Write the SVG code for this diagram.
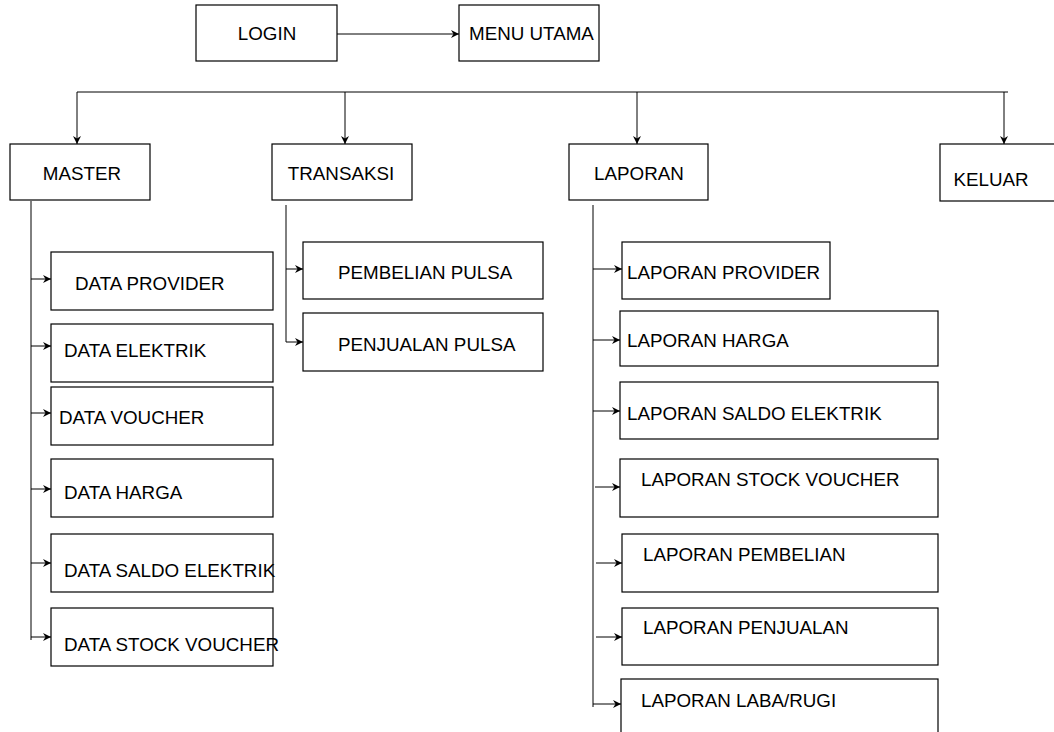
<svg xmlns="http://www.w3.org/2000/svg" width="1054" height="732" viewBox="0 0 1054 732">
<style>
  .box { fill: #fff; stroke: #000; stroke-width: 1.2; }
  .t { font-family: "Liberation Sans", Arial, sans-serif; font-size: 18.8px; fill: #000; }
  .c { text-anchor: middle; }
  .ln { fill: none; stroke: #000; stroke-width: 1; }
  .ar { fill: none; stroke: #000; stroke-width: 1; marker-end: url(#ah); }
</style>
<defs>
  <marker id="ah" viewBox="0 0 9 10" refX="8" refY="5" markerWidth="9" markerHeight="10" markerUnits="userSpaceOnUse" orient="auto">
    <path d="M0,1 L8,5 L0,9 L2.5,5 Z" fill="#000"/>
  </marker>
</defs>
<rect width="1054" height="732" fill="#fff"/>

<g id="connectors">
  <line class="ar" x1="337" y1="34" x2="459" y2="34"/>
  <line class="ln" x1="77" y1="92" x2="1008" y2="92"/>
  <line class="ar" x1="77" y1="92" x2="77" y2="144"/>
  <line class="ar" x1="345" y1="92" x2="345" y2="144"/>
  <line class="ar" x1="637" y1="92" x2="637" y2="144"/>
  <line class="ar" x1="1004" y1="92" x2="1004" y2="144"/>

  <line class="ln" x1="31" y1="201" x2="31" y2="640"/>
  <line class="ar" x1="31" y1="279" x2="51" y2="279"/>
  <line class="ar" x1="31" y1="346" x2="51" y2="346"/>
  <line class="ar" x1="31" y1="413" x2="51" y2="413"/>
  <line class="ar" x1="31" y1="489" x2="51" y2="489"/>
  <line class="ar" x1="31" y1="563" x2="51" y2="563"/>
  <line class="ar" x1="31" y1="637" x2="51" y2="637"/>

  <line class="ln" x1="286" y1="205" x2="286" y2="342"/>
  <line class="ar" x1="286" y1="269" x2="303" y2="269"/>
  <line class="ar" x1="286" y1="342" x2="303" y2="342"/>

  <line class="ln" x1="593" y1="205" x2="593" y2="707"/>
  <line class="ar" x1="593" y1="269" x2="622" y2="269"/>
  <line class="ar" x1="593" y1="340" x2="620" y2="340"/>
  <line class="ar" x1="593" y1="411" x2="620" y2="411"/>
  <line class="ar" x1="595" y1="487" x2="620" y2="487"/>
  <line class="ar" x1="596" y1="563" x2="622" y2="563"/>
  <line class="ar" x1="596" y1="637" x2="622" y2="637"/>
  <line class="ar" x1="593" y1="704" x2="621" y2="704"/>
</g>

<g id="login"><rect class="box" x="196" y="5" width="141" height="56"/><text class="t c" x="267" y="40">LOGIN</text></g>
<g id="menu-utama"><rect class="box" x="459" y="5" width="140" height="56"/><text class="t" x="469" y="40">MENU UTAMA</text></g>

<g id="master"><rect class="box" x="10" y="144" width="140" height="56"/><text class="t c" x="82" y="180">MASTER</text></g>
<g id="transaksi"><rect class="box" x="272" y="144" width="140" height="56"/><text class="t c" x="341" y="180">TRANSAKSI</text></g>
<g id="laporan"><rect class="box" x="569" y="144" width="139" height="56"/><text class="t c" x="639" y="180">LAPORAN</text></g>
<g id="keluar"><rect class="box" x="940" y="144" width="120" height="57"/><text class="t c" x="991" y="186">KELUAR</text></g>

<g id="data-provider"><rect class="box" x="51" y="252" width="222" height="58"/><text class="t" x="75" y="290">DATA PROVIDER</text></g>
<g id="data-elektrik"><rect class="box" x="51" y="324" width="222" height="58"/><text class="t" x="64" y="357">DATA ELEKTRIK</text></g>
<g id="data-voucher"><rect class="box" x="51" y="387" width="222" height="58"/><text class="t" x="59" y="424">DATA VOUCHER</text></g>
<g id="data-harga"><rect class="box" x="51" y="459" width="222" height="58"/><text class="t" x="64" y="499">DATA HARGA</text></g>
<g id="data-saldo-elektrik"><rect class="box" x="51" y="534" width="222" height="58"/><text class="t" x="64" y="577">DATA SALDO ELEKTRIK</text></g>
<g id="data-stock-voucher"><rect class="box" x="51" y="608" width="222" height="58"/><text class="t" x="64" y="651">DATA STOCK VOUCHER</text></g>

<g id="pembelian-pulsa"><rect class="box" x="303" y="242" width="240" height="57"/><text class="t" x="338" y="279">PEMBELIAN PULSA</text></g>
<g id="penjualan-pulsa"><rect class="box" x="303" y="313" width="240" height="58"/><text class="t" x="338" y="351">PENJUALAN PULSA</text></g>

<g id="laporan-provider"><rect class="box" x="622" y="242" width="208" height="57"/><text class="t" x="627" y="279">LAPORAN PROVIDER</text></g>
<g id="laporan-harga"><rect class="box" x="620" y="311" width="318" height="55"/><text class="t" x="627" y="347">LAPORAN HARGA</text></g>
<g id="laporan-saldo-elektrik"><rect class="box" x="620" y="382" width="318" height="57"/><text class="t" x="627" y="420">LAPORAN SALDO ELEKTRIK</text></g>
<g id="laporan-stock-voucher"><rect class="box" x="620" y="459" width="318" height="58"/><text class="t" x="641" y="486">LAPORAN STOCK VOUCHER</text></g>
<g id="laporan-pembelian"><rect class="box" x="622" y="534" width="316" height="58"/><text class="t" x="643" y="561">LAPORAN PEMBELIAN</text></g>
<g id="laporan-penjualan"><rect class="box" x="622" y="608" width="316" height="57"/><text class="t" x="643" y="634">LAPORAN PENJUALAN</text></g>
<g id="laporan-laba-rugi"><rect class="box" x="621" y="679" width="317" height="70"/><text class="t" x="641" y="707">LAPORAN LABA/RUGI</text></g>
</svg>
